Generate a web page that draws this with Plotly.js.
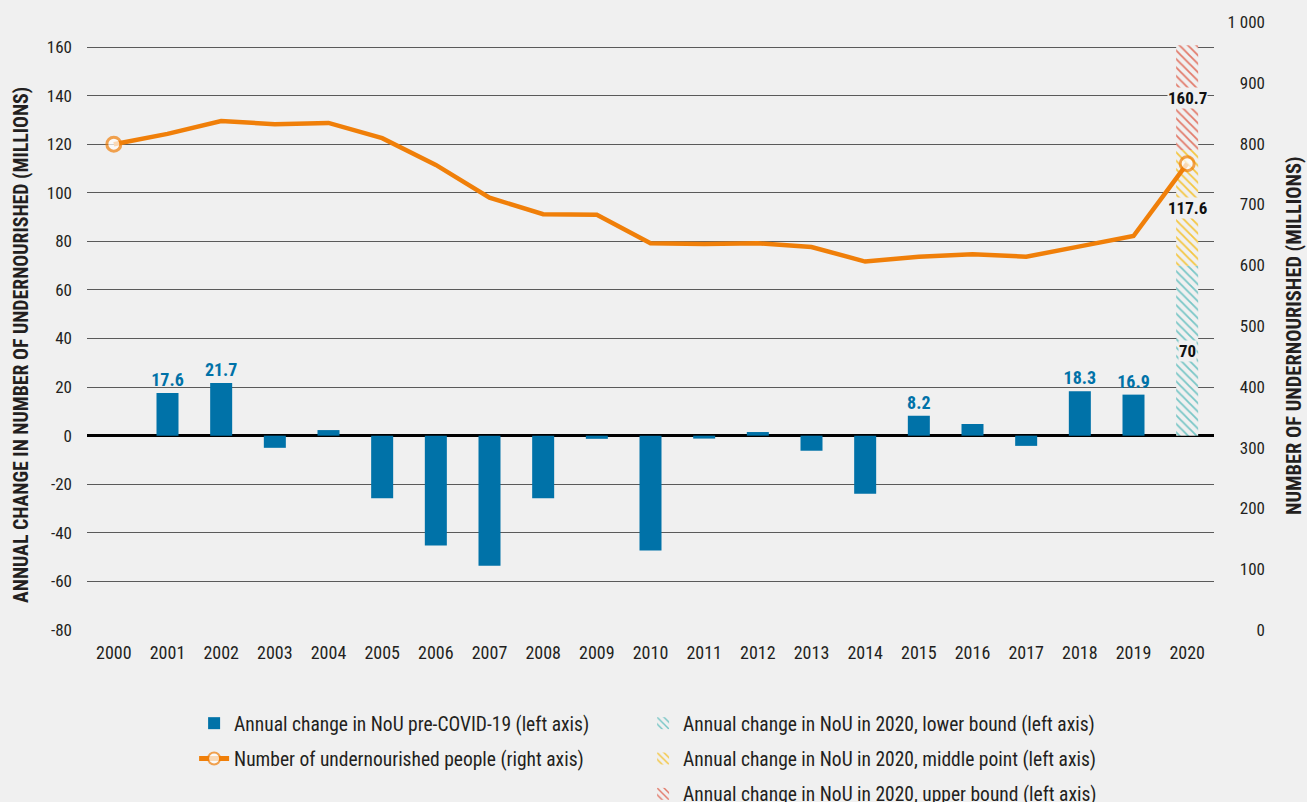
<!DOCTYPE html>
<html>
<head>
<meta charset="utf-8">
<script src="https://cdn.plot.ly/plotly-3.0.1.min.js"></script>
<style>
  html, body { margin: 0; padding: 0; background: #f0f0f0; }
  #chart { width: 1307px; height: 802px; }
  #chart svg text { font-stretch: condensed !important; }
</style>
</head>
<body>
<div id="chart"></div>
<script>
// ---- data ----
const years = ['2000','2001','2002','2003','2004','2005','2006','2007','2008','2009','2010',
               '2011','2012','2013','2014','2015','2016','2017','2018','2019','2020'];
const annualChange = [null, 17.6, 21.7, -5.0, 2.3, -25.8, -45.2, -53.5, -25.8, -1.3, -47.3,
                      -1.2, 1.5, -6.2, -23.9, 8.2, 4.8, -4.2, 18.3, 16.9, null];
const labeledYears = ['2001','2002','2015','2018','2019'];
const nou = [799, 816, 837, 832, 834, 809, 765, 711, 684, 683, 636,
             635, 636, 630, 606, 614, 618, 614, 631, 648, 767];
const covidYear = '2020';
const covidBounds = [70, 117.6, 160.7];
const covidNames = ['Annual change in NoU in 2020, lower bound (left axis)',
                    'Annual change in NoU in 2020, middle point (left axis)',
                    'Annual change in NoU in 2020, upper bound (left axis)'];
const leftTicks = [-80, -60, -40, -20, 0, 20, 40, 60, 80, 100, 120, 140, 160];
const leftTickText = ['-80','-60','-40','-20','0','20','40','60','80','100','120','140','160'];
const rightTicks = [0, 100, 200, 300, 400, 500, 600, 700, 800, 900, 1000];
const rightTickText = ['0','100','200','300','400','500','600','700','800','900','1 000'];
const leftTitle = 'ANNUAL CHANGE IN NUMBER OF UNDERNOURISHED (MILLIONS)';
const rightTitle = 'NUMBER OF UNDERNOURISHED (MILLIONS)';

// ---- styles ----
const FONT = "'Roboto Condensed', 'Liberation Sans Narrow', 'DejaVu Sans Condensed', 'Liberation Sans', 'DejaVu Sans', sans-serif";
const BG = '#f0f0f0';
const BLUE = '#0072a8';
const ORANGE = '#f07f09';
const hatchColors = ['#78c6c6', '#f4c640', '#e27a6a'];

const barText = years.map((y, i) => labeledYears.includes(y) ? annualChange[i].toFixed(1) : '');

const traces = [];
traces.push({
  type: 'bar', x: years, y: annualChange, name: 'Annual change in NoU pre-COVID-19 (left axis)',
  marker: { color: BLUE, line: { width: 0 } },
  text: barText, textposition: 'outside', cliponaxis: false, constraintext: 'none',
  textfont: { family: FONT, size: 18, color: BLUE, weight: 'bold' },
  legend: 'legend', legendgroup: 'a'
});
let prev = 0;
covidBounds.forEach((b, i) => {
  traces.push({
    type: 'bar', x: [covidYear], y: [b - prev], base: [prev], name: covidNames[i],
    marker: { color: BG, line: { width: 0 },
              pattern: { shape: '\\', fgcolor: hatchColors[i], bgcolor: BG, size: 6, solidity: 0.3 } },
    legend: 'legend2', legendgroup: 'c' + i
  });
  prev = b;
});
traces.push({
  type: 'scatter', mode: 'lines+markers', x: years, y: nou, yaxis: 'y2',
  name: 'Number of undernourished people (right axis)',
  line: { color: ORANGE, width: 4.5 },
  marker: { size: years.map((y, i) => (i === 0 || i === years.length - 1) ? 14 : 0),
            color: '#ffffff', line: { color: ORANGE, width: 3 } },
  legend: 'legend', legendgroup: 'b'
});

const PW = 1200;           // paper width (px) = 1307 - l - r
const PH = 608;            // paper height (px)
const PLOT_W = 1127;       // plot width in px

// labels of the 2020 segments, centred in each segment
const annotations = [];
let lo = 0;
covidBounds.forEach((b) => {
  annotations.push({
    xref: 'x', yref: 'y', x: years.indexOf(covidYear), y: (lo + b) / 2, text: String(b),
    showarrow: false, bgcolor: BG, borderpad: 0,
    font: { family: FONT, size: 17, color: '#111', weight: 'bold' }
  });
  lo = b;
});
// axis titles
annotations.push({
  xref: 'paper', yref: 'paper', x: (21 - 87) / PW, y: (630 - 345) / PH, text: leftTitle,
  textangle: -90, showarrow: false, xanchor: 'center', yanchor: 'middle',
  font: { family: FONT, size: 19.8, color: '#231f20', weight: 'bold' }
});
annotations.push({
  xref: 'paper', yref: 'paper', x: (1294 - 87) / PW, y: (630 - 336) / PH, text: rightTitle,
  textangle: -90, showarrow: false, xanchor: 'center', yanchor: 'middle',
  font: { family: FONT, size: 20.4, color: '#231f20', weight: 'bold' }
});

const layout = {
  width: 1307, height: 802,
  paper_bgcolor: BG, plot_bgcolor: BG,
  margin: { l: 87, r: 20, t: 22, b: 172, autoexpand: false },
  font: { family: FONT, size: 17, color: '#231f20' },
  barmode: 'relative', bargap: 0.59,
  showlegend: true,
  xaxis: {
    type: 'category', range: [-0.5, 20.5], domain: [0, PLOT_W / PW],
    showgrid: false, showline: false, zeroline: false,
    ticks: '', ticklabelstandoff: 10, tickfont: { size: 18 }
  },
  yaxis: {
    range: [-80, 170.3], tickvals: leftTicks, ticktext: leftTickText,
    showgrid: true, gridcolor: '#5a5a5a', gridwidth: 1,
    zeroline: true, zerolinecolor: '#000', zerolinewidth: 2.5, showline: false, ticks: '',
    ticklabelstandoff: 14, tickfont: { size: 17 }
  },
  yaxis2: {
    overlaying: 'y', side: 'left', anchor: 'free', position: (1265 - 87) / PW,
    range: [0, 1000], tickvals: rightTicks, ticktext: rightTickText,
    ticklabelstandoff: 0,
    showgrid: false, zeroline: false, showline: false, ticks: '',
    tickfont: { size: 17 }
  },
  legend: {
    x: 0.08925, y: -0.1217, xanchor: 'left', yanchor: 'top', orientation: 'v',
    bgcolor: 'rgba(0,0,0,0)', font: { size: 19.5 }, tracegroupgap: 7, itemsizing: 'constant'
  },
  legend2: {
    x: 0.4634, y: -0.1217, xanchor: 'left', yanchor: 'top', orientation: 'v',
    bgcolor: 'rgba(0,0,0,0)', font: { size: 19.5 }, tracegroupgap: 7
  },
  annotations: annotations
};

Plotly.newPlot('chart', traces, layout, { displayModeBar: false, staticPlot: true });
</script>
</body>
</html>
